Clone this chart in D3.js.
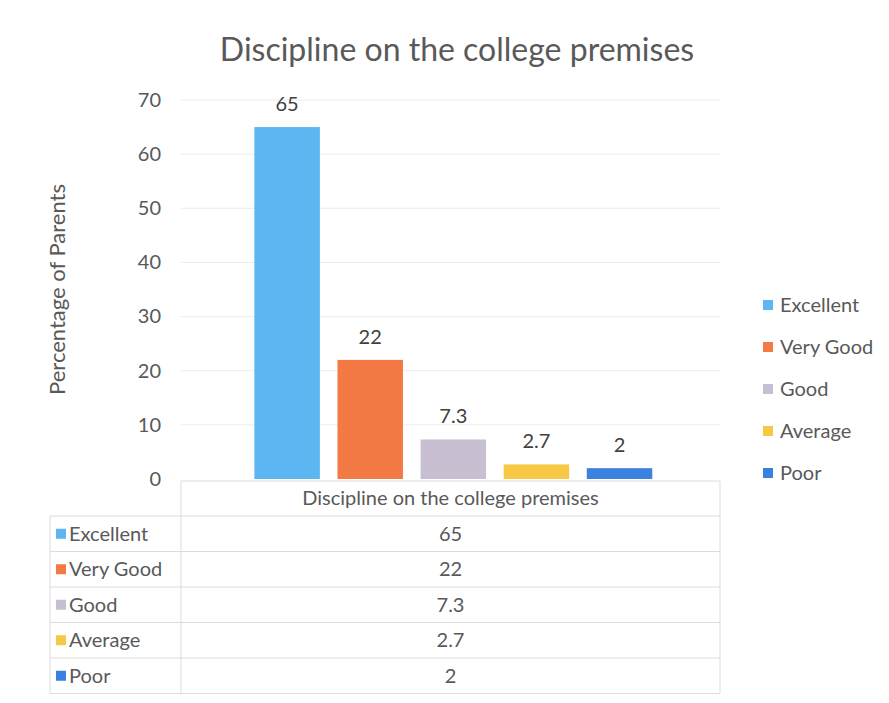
<!DOCTYPE html>
<html>
<head>
  <meta charset="utf-8">
  <title>Discipline on the college premises</title>
  <script src="https://d3js.org/d3.v7.min.js"></script>
  <style>
    body { margin: 0; background: #fff; }
    text { font-family: 'Lato', 'Open Sans', sans-serif; }
  </style>
</head>
<body>
  <div id="chart"></div>
  <script>
    // data
    const categories = ["Excellent", "Very Good", "Good", "Average", "Poor"];
    const values = [65, 22, 7.3, 2.7, 2];
    const valueLabels = ["65", "22", "7.3", "2.7", "2"];
    const colors = ["#5cb6f2", "#f47a45", "#c8bfd2", "#f6c844", "#3b82de"];
    const yTicks = [0, 10, 20, 30, 40, 50, 60, 70];
    const groupLabel = "Discipline on the college premises";

    const W = 889, H = 703;
    const plot = { left: 181, right: 720, top: 100, bottom: 479 };
    const textColor = "#595959";
    const fs = 20;

    const svg = d3.select("#chart").append("svg")
      .attr("width", W).attr("height", H);

    svg.append("rect").attr("width", W).attr("height", H).attr("fill", "#fff");

    // title
    svg.append("text")
      .attr("x", 457).attr("y", 61)
      .attr("text-anchor", "middle")
      .attr("font-size", 32)
      .attr("fill", textColor)
      .text(groupLabel);

    const y = d3.scaleLinear().domain([0, 70]).range([plot.bottom, plot.top]);
    const x = d3.scaleBand().domain(categories)
      .range([plot.left, plot.right])
      .paddingInner(0.212).paddingOuter(0.849).align(0.52);

    // gridlines
    svg.append("g")
      .selectAll("line")
      .data(yTicks.filter(d => d > 0))
      .join("line")
      .attr("x1", plot.left).attr("x2", plot.right)
      .attr("y1", d => y(d)).attr("y2", d => y(d))
      .attr("stroke", "#ececec").attr("stroke-width", 1);

    // y axis labels
    const yAxis = d3.axisLeft(y).tickValues(yTicks).tickSize(0).tickPadding(0);
    const ga = svg.append("g")
      .attr("transform", `translate(${plot.left - 20},0)`)
      .call(yAxis);
    ga.select(".domain").remove();
    ga.selectAll("text")
      .attr("font-size", fs)
      .attr("fill", textColor)
      .attr("font-family", "Lato, sans-serif");

    // y axis title
    svg.append("text")
      .attr("transform", `translate(65,${(plot.top + plot.bottom) / 2}) rotate(-90)`)
      .attr("text-anchor", "middle")
      .attr("font-size", 22)
      .attr("fill", textColor)
      .text("Percentage of Parents");

    // bars
    svg.append("g")
      .selectAll("rect")
      .data(categories)
      .join("rect")
      .attr("x", d => x(d))
      .attr("y", (d, i) => y(values[i]))
      .attr("width", x.bandwidth())
      .attr("height", (d, i) => plot.bottom - y(values[i]))
      .attr("fill", (d, i) => colors[i]);

    // data labels
    svg.append("g")
      .selectAll("text")
      .data(categories)
      .join("text")
      .attr("x", d => x(d) + x.bandwidth() / 2)
      .attr("y", (d, i) => y(values[i]) - 16)
      .attr("text-anchor", "middle")
      .attr("font-size", fs)
      .attr("fill", "#404040")
      .text((d, i) => valueLabels[i]);

    // data table
    const tableLeft = 50, rowH = 35.5;
    const headerTop = plot.bottom + 2, headerBottom = headerTop + 35;
    const gridColor = "#dcdcdc";
    const tbl = svg.append("g");

    tbl.append("text")
      .attr("x", (plot.left + plot.right) / 2)
      .attr("y", headerTop + 24)
      .attr("text-anchor", "middle")
      .attr("font-size", fs)
      .attr("fill", textColor)
      .text(groupLabel);

    const rowY = i => headerBottom + i * rowH;

    // horizontal lines
    tbl.selectAll("line.h")
      .data(d3.range(categories.length + 1))
      .join("line")
      .attr("x1", tableLeft).attr("x2", plot.right)
      .attr("y1", i => rowY(i)).attr("y2", i => rowY(i))
      .attr("stroke", gridColor);
    tbl.append("line")
      .attr("x1", plot.left).attr("x2", plot.right)
      .attr("y1", headerTop).attr("y2", headerTop)
      .attr("stroke", gridColor);
    // vertical lines
    [[plot.left, headerTop], [plot.right, headerTop], [tableLeft, headerBottom]].forEach(([vx, vy]) => {
      tbl.append("line")
        .attr("x1", vx).attr("x2", vx)
        .attr("y1", vy).attr("y2", rowY(categories.length))
        .attr("stroke", gridColor);
    });

    const rows = tbl.selectAll("g.row")
      .data(categories)
      .join("g")
      .attr("transform", (d, i) => `translate(0,${rowY(i) + rowH / 2})`);
    rows.append("rect")
      .attr("x", 56).attr("y", -5)
      .attr("width", 10).attr("height", 10)
      .attr("fill", (d, i) => colors[i]);
    rows.append("text")
      .attr("x", 69).attr("y", 7)
      .attr("font-size", fs)
      .attr("fill", textColor)
      .text(d => d);
    rows.append("text")
      .attr("x", (plot.left + plot.right) / 2).attr("y", 7)
      .attr("text-anchor", "middle")
      .attr("font-size", fs)
      .attr("fill", textColor)
      .text((d, i) => valueLabels[i]);

    // legend
    const legend = svg.append("g")
      .selectAll("g")
      .data(categories)
      .join("g")
      .attr("transform", (d, i) => `translate(763,${305 + i * 42})`);
    legend.append("rect")
      .attr("x", 0).attr("y", -5)
      .attr("width", 10).attr("height", 10)
      .attr("fill", (d, i) => colors[i]);
    legend.append("text")
      .attr("x", 17).attr("y", 7)
      .attr("font-size", fs)
      .attr("fill", textColor)
      .text(d => d);
  </script>
</body>
</html>
